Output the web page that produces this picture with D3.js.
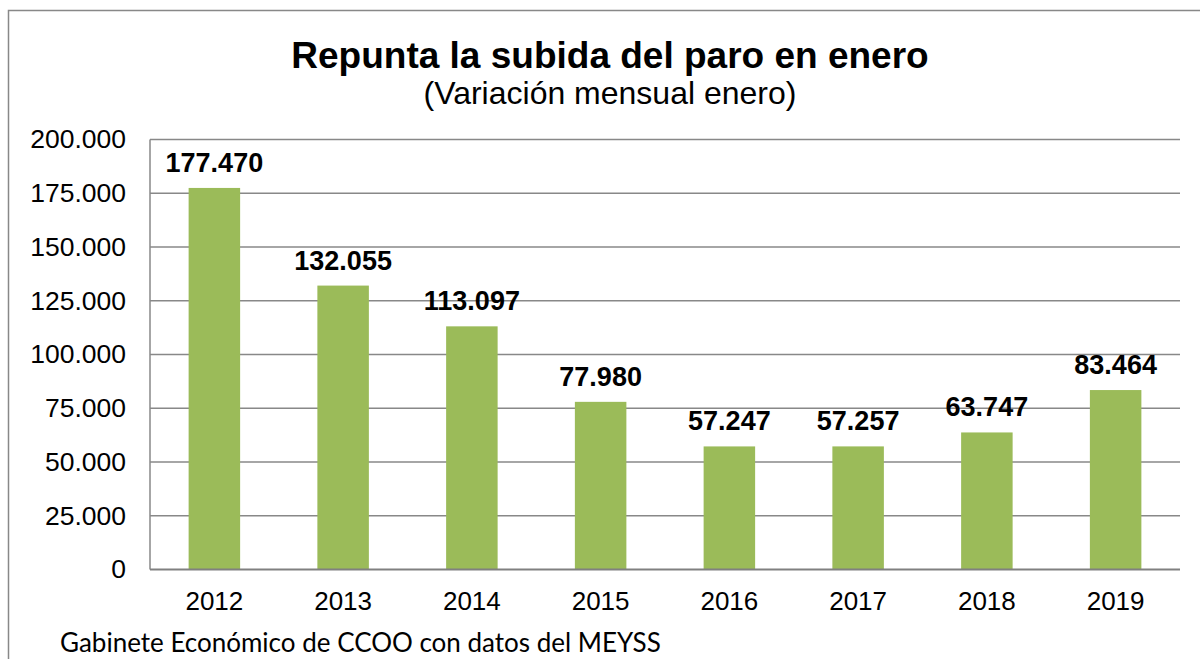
<!DOCTYPE html>
<html><head><meta charset="utf-8">
<script src="https://cdn.jsdelivr.net/npm/d3@7"></script>
<style>html,body{margin:0;padding:0;background:#fff;}svg{display:block;}</style>
</head><body>
<script>
const years = ["2012","2013","2014","2015","2016","2017","2018","2019"];
const values = [177470,132055,113097,77980,57247,57257,63747,83464];
const yTicks = [0,25000,50000,75000,100000,125000,150000,175000,200000];
const title = "Repunta la subida del paro en enero";
const subtitle = "(Variación mensual enero)";
const source = "Gabinete Económico de CCOO con datos del MEYSS";

const W = 1200, H = 659;
const m = {left:150, right:1180, top:139.5, bottom:569.5};
const svg = d3.select("body").append("svg").attr("width",W).attr("height",H);
svg.append("rect").attr("width",W).attr("height",H).attr("fill","#fff");
// outer frame
svg.append("rect").attr("x",8.5).attr("y",10.5).attr("width",1200).attr("height",700)
  .attr("fill","none").attr("stroke","#888").attr("stroke-width",1.5);

const fmt = v => v===0 ? "0" : d3.format(",")(v).replace(/,/g,".");
const x = d3.scaleBand().domain(years).range([m.left,m.right]).paddingInner(0.6).paddingOuter(0.3);
const y = d3.scaleLinear().domain([0,200000]).range([m.bottom,m.top]);

// gridlines
svg.append("g").selectAll("line").data(yTicks.filter(d=>d>0)).join("line")
  .attr("x1",m.left).attr("x2",m.right).attr("y1",d=>y(d)).attr("y2",d=>y(d))
  .attr("stroke","#888").attr("stroke-width",1.5);
// left axis line
svg.append("line").attr("x1",m.left).attr("x2",m.left).attr("y1",m.top).attr("y2",m.bottom)
  .attr("stroke","#888").attr("stroke-width",1.5);

// y axis labels
const yAxis = d3.axisLeft(y).tickValues(yTicks).tickFormat(fmt).tickSize(0).tickPadding(24);
const gy = svg.append("g").attr("transform",`translate(${m.left},0)`).call(yAxis);
gy.select(".domain").remove();
gy.selectAll("text").attr("font-family","Liberation Sans, Arial, sans-serif").attr("font-size",26.5).attr("fill","#000");

// bars
svg.append("g").selectAll("rect").data(values).join("rect")
  .attr("x",(d,i)=>x(years[i])).attr("width",x.bandwidth())
  .attr("y",d=>y(d)).attr("height",d=>y(0)-y(d)).attr("fill","#9BBB59");

// bottom axis
svg.append("line").attr("x1",m.left).attr("x2",m.right).attr("y1",m.bottom).attr("y2",m.bottom)
  .attr("stroke","#808080").attr("stroke-width",2);
const xAxis = d3.axisBottom(x).tickSize(0).tickPadding(22);
const gx = svg.append("g").attr("transform",`translate(0,${m.bottom})`).call(xAxis);
gx.select(".domain").remove();
gx.selectAll("text").attr("font-family","Liberation Sans, Arial, sans-serif").attr("font-size",26).attr("fill","#000");

// data labels
svg.append("g").selectAll("text").data(values).join("text")
  .attr("x",(d,i)=>x(years[i])+x.bandwidth()/2).attr("y",d=>y(d)-16)
  .attr("text-anchor","middle").attr("font-family","Liberation Sans, Arial, sans-serif")
  .attr("font-weight","bold").attr("font-size",27).attr("fill","#000").text(fmt);

// titles
svg.append("text").attr("x",610).attr("y",68).attr("text-anchor","middle")
  .attr("font-family","Liberation Sans, Arial, sans-serif").attr("font-weight","bold")
  .attr("font-size",37).text(title);
svg.append("text").attr("x",610).attr("y",104).attr("text-anchor","middle")
  .attr("font-family","Liberation Sans, Arial, sans-serif")
  .attr("font-size",32).text(subtitle);
svg.append("text").attr("x",60).attr("y",652)
  .attr("font-family","Lato, Open Sans, sans-serif")
  .attr("font-size",26).text(source);
</script>
</body></html>
